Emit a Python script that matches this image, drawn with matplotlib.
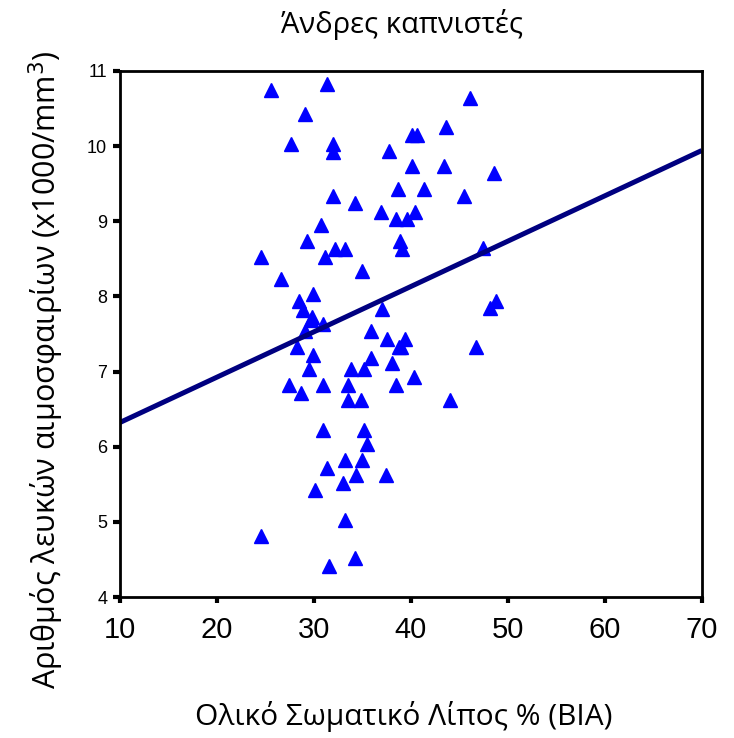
import matplotlib
matplotlib.use("Agg")
import matplotlib.pyplot as plt

# Body fat % (BIA) vs white blood cell count, male smokers
fat = [25.63, 31.33, 46.16, 29.15, 27.68, 31.95, 31.95, 37.72, 40.16, 40.68,
       43.66, 40.16, 43.47, 48.58, 31.95, 34.25, 38.73, 41.42, 45.49, 36.92,
       38.52, 39.57, 40.41, 30.76, 29.32, 32.16, 33.22, 38.95, 39.14, 24.58,
       31.17, 47.42, 35.03, 26.61, 28.46, 29.90, 28.87, 29.84, 29.77, 30.92,
       29.15, 37.08, 48.83, 48.21, 28.28, 29.90, 35.89, 37.52, 39.42, 38.80,
       39.00, 46.74, 35.90, 29.49, 33.84, 35.24, 38.11, 40.36, 27.50, 28.71,
       30.94, 33.59, 38.49, 33.59, 34.87, 44.07, 30.97, 35.24, 35.48, 33.22,
       35.03, 31.33, 34.41, 37.49, 32.98, 30.10, 33.22, 24.60, 34.25, 31.54]
wbc = [10.75, 10.83, 10.64, 10.43, 10.03, 10.03, 9.92, 9.93, 10.14, 10.14,
       10.25, 9.74, 9.74, 9.64, 9.34, 9.24, 9.43, 9.43, 9.34, 9.12,
       9.03, 9.03, 9.12, 8.95, 8.73, 8.63, 8.63, 8.73, 8.63, 8.53,
       8.53, 8.64, 8.34, 8.23, 7.94, 8.03, 7.82, 7.73, 7.68, 7.63,
       7.54, 7.83, 7.94, 7.84, 7.32, 7.22, 7.54, 7.43, 7.43, 7.33,
       7.33, 7.33, 7.18, 7.04, 7.04, 7.04, 7.12, 6.93, 6.82, 6.72,
       6.82, 6.82, 6.82, 6.62, 6.62, 6.62, 6.22, 6.22, 6.03, 5.82,
       5.82, 5.72, 5.63, 5.63, 5.52, 5.42, 5.02, 4.81, 4.52, 4.41]

# fitted line, read at the axis ends
fit_x = [10, 70]
fit_y = [6.32, 9.94]

xticks = [10, 20, 30, 40, 50, 60, 70]
yticks = [4, 5, 6, 7, 8, 9, 10, 11]

label_font = "Open Sans"
tick_font = "Liberation Sans"

fig = plt.figure(figsize=(7.34, 7.38), dpi=100)
ax = fig.add_axes([0.163, 0.191, 0.793, 0.713])

ax.plot(fat, wbc, linestyle="none", marker="^", markersize=9.8,
        color="#0000ff", markeredgecolor="#0000ff")
ax.plot(fit_x, fit_y, color="#000080", linewidth=3.6, solid_capstyle="butt")

ax.set_xlim(10, 70)
ax.set_ylim(4, 11)
ax.set_xticks(xticks)
ax.set_yticks(yticks)

for s in ax.spines.values():
    s.set_linewidth(2)
    s.set_color("black")

ax.tick_params(axis="x", direction="out", length=4, width=3, pad=10,
               labelsize=21)
ax.tick_params(axis="y", direction="out", length=5, width=3, pad=4,
               labelsize=13)
for lab in ax.get_xticklabels() + ax.get_yticklabels():
    lab.set_fontfamily(tick_font)

ax.set_title("Άνδρες καπνιστές", fontsize=21, fontfamily=label_font, pad=27,
             x=0.485)
ax.set_xlabel("Ολικό Σωματικό Λίπος % (BIA)", fontsize=21.5,
              fontfamily=label_font, labelpad=41)
ax.xaxis.label.set_x(0.488)
ax.set_ylabel("Αριθμός λευκών αιμοσφαιρίων (x1000/mm$^3$)", fontsize=22,
              fontfamily=label_font, labelpad=15)
ax.yaxis.label.set_y(0.432)

fig.savefig("out.png", dpi=100)
